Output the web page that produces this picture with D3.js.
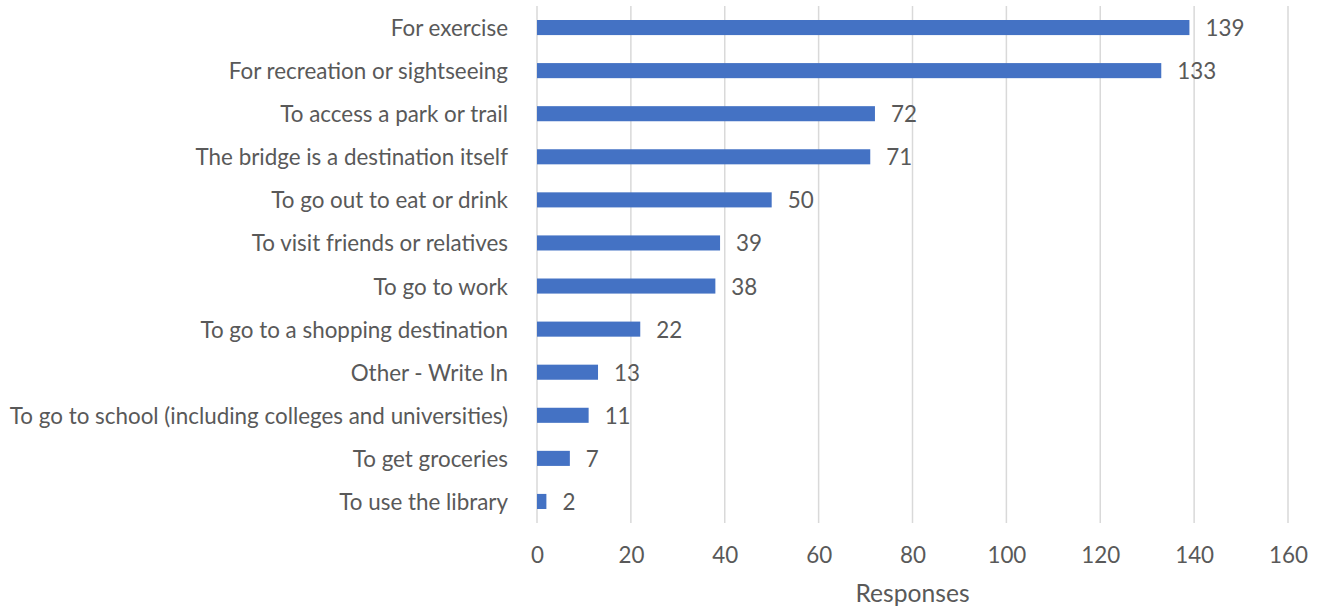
<!DOCTYPE html>
<html>
<head>
<meta charset="utf-8">
<script src="https://cdn.jsdelivr.net/npm/d3@7"></script>
<style>
  html, body { margin: 0; padding: 0; background: #fff; }
  svg text { font-family: Lato, "Open Sans", sans-serif; fill: #595959; }
</style>
</head>
<body>
<svg id="chart" width="1320" height="607"></svg>
<script>
// Reasons for crossing the bridge, number of responses
const categories = [
  "For exercise",
  "For recreation or sightseeing",
  "To access a park or trail",
  "The bridge is a destination itself",
  "To go out to eat or drink",
  "To visit friends or relatives",
  "To go to work",
  "To go to a shopping destination",
  "Other - Write In",
  "To go to school (including colleges and universities)",
  "To get groceries",
  "To use the library"
];
const responses = [139, 133, 72, 71, 50, 39, 38, 22, 13, 11, 7, 2];
const xTicks = [0, 20, 40, 60, 80, 100, 120, 140, 160];
const xTitle = "Responses";

const svg = d3.select("#chart");
const margin = { left: 537, right: 32, top: 6, bottom: 84 };
const width = 1320 - margin.left - margin.right;
const height = 607 - margin.top - margin.bottom;

// Font size chosen so the longest category label spans the space left of the plot
const probe = svg.append("text").attr("font-size", 20).text(categories[9]);
const w20 = probe.node().getComputedTextLength();
probe.remove();
const fs = Math.round(20 * 498 / w20 * 10) / 10;

const g = svg.append("g").attr("transform", `translate(${margin.left},${margin.top})`);

const x = d3.scaleLinear().domain([0, 160]).range([0, width]);
const y = d3.scaleBand().domain(categories).range([0, height]).paddingInner(0.65).paddingOuter(0.325);

// Vertical gridlines
g.append("g").selectAll("line").data(xTicks).join("line")
  .attr("x1", d => x(d)).attr("x2", d => x(d))
  .attr("y1", 0).attr("y2", height)
  .attr("stroke", "#d9d9d9").attr("stroke-width", 1.5);

// Bars
g.append("g").selectAll("rect").data(categories).join("rect")
  .attr("x", x(0))
  .attr("y", d => y(d))
  .attr("width", (d, i) => x(responses[i]) - x(0))
  .attr("height", y.bandwidth())
  .attr("fill", "#4472c4");

// Value labels
g.append("g").selectAll("text").data(categories).join("text")
  .attr("x", (d, i) => x(responses[i]) + 16)
  .attr("y", d => y(d) + y.bandwidth() / 2)
  .attr("dy", "0.38em")
  .attr("font-size", fs)
  .text((d, i) => responses[i]);

// Category axis (labels only)
const yAxis = g.append("g").call(d3.axisLeft(y).tickSize(0).tickPadding(29));
yAxis.select(".domain").remove();
yAxis.selectAll("text").attr("font-size", fs).attr("fill", "#595959")
  .attr("dy", "0.38em").style("font-family", null);

// Value axis (labels only)
const xAxis = g.append("g").attr("transform", `translate(0,${height})`)
  .call(d3.axisBottom(x).tickValues(xTicks).tickSize(0).tickPadding(24));
xAxis.select(".domain").remove();
xAxis.selectAll("text").attr("font-size", fs).attr("fill", "#595959").style("font-family", null);

// Axis title
svg.append("text")
  .attr("x", margin.left + width / 2)
  .attr("y", 602)
  .attr("text-anchor", "middle")
  .attr("font-size", fs * 1.1)
  .text(xTitle);
</script>
</body>
</html>
